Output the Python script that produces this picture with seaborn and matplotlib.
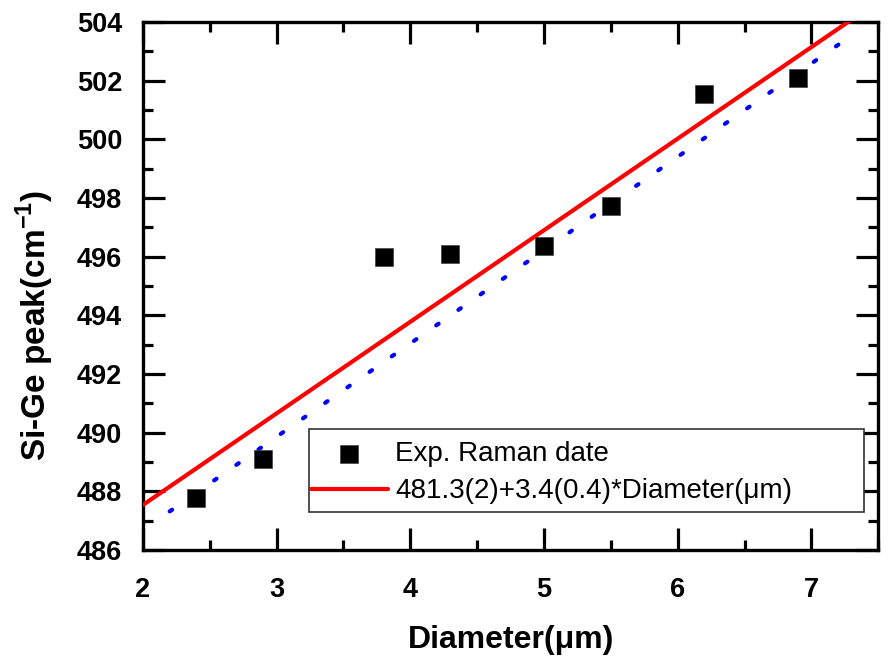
import numpy as np
import pandas as pd
import matplotlib
matplotlib.use("Agg")
import matplotlib.pyplot as plt
from matplotlib.ticker import MultipleLocator
from matplotlib.patches import Rectangle
import seaborn as sns

# Measured Raman Si-Ge peak positions versus wire diameter
diameter = [2.4, 2.9, 3.8, 4.3, 5.0, 5.5, 6.2, 6.9]
peak = [487.77, 489.10, 495.99, 496.09, 496.36, 497.73, 501.55, 502.09]

# Linear fit (solid red) and guide line (dotted blue)
fit_x = [2.0, 7.5]
fit_y = [487.54, 504.70]
guide_x = [2.2, 7.27]
guide_y = [487.32, 503.44]

legend_labels = ["Exp. Raman date", "481.3(2)+3.4(0.4)*Diameter(\u03bcm)"]
x_ticks = [2, 3, 4, 5, 6, 7]
y_ticks = [486, 488, 490, 492, 494, 496, 498, 500, 502, 504]

sns.set_style("ticks", {"axes.edgecolor": "black", "text.color": "black",
                        "axes.labelcolor": "black", "xtick.color": "black",
                        "ytick.color": "black"})
plt.rcParams["font.family"] = ["Liberation Sans", "DejaVu Sans"]
plt.rcParams["mathtext.fontset"] = "custom"
plt.rcParams["mathtext.rm"] = "Liberation Sans"
plt.rcParams["mathtext.bf"] = "Liberation Sans:bold"

fig = plt.figure(figsize=(8.88, 6.62), dpi=100)
ax = fig.add_axes([0.161, 0.169, 0.828, 0.798])

pts = pd.DataFrame({"d": diameter, "p": peak})
fit = pd.DataFrame({"d": fit_x, "p": fit_y})
guide = pd.DataFrame({"d": guide_x, "p": guide_y})

sns.lineplot(data=guide, x="d", y="p", ax=ax, color="#0000ff", lw=3.0,
             dashes=False, linestyle=(0, (0.7, 5.8)), zorder=2)
ax.lines[-1].set_dash_capstyle("round")
sns.lineplot(data=fit, x="d", y="p", ax=ax, color="#ff0000", lw=3.0,
             label=legend_labels[1], zorder=3)
sns.scatterplot(data=pts, x="d", y="p", ax=ax, marker="s", s=165,
                color="black", edgecolor="#444444", linewidth=0.5,
                label=legend_labels[0], zorder=4)

ax.set_xlim(2, 7.5)
ax.set_ylim(486, 504)
ax.set_xticks(x_ticks)
ax.set_yticks(y_ticks)
ax.xaxis.set_minor_locator(MultipleLocator(0.5))
ax.yaxis.set_minor_locator(MultipleLocator(1))
ax.tick_params(which="both", direction="in", top=True, right=True, width=2.3)
ax.tick_params(which="major", length=15.5, labelsize=19.5)
ax.tick_params(axis="y", pad=15)
ax.tick_params(axis="x", pad=19)
ax.tick_params(which="minor", length=7.5)
for lab in ax.get_xticklabels() + ax.get_yticklabels():
    lab.set_fontweight("bold")
for sp in ax.spines.values():
    sp.set_linewidth(2.4)
    sp.set_visible(True)

ax.set_xlabel("Diameter(\u03bcm)", fontsize=23, fontweight="bold")
ax.set_ylabel(r"Si-Ge peak(cm$^{\mathbf{-1}}$)", fontsize=24, fontweight="bold")
ax.xaxis.set_label_coords(0.5, -0.142)
ax.yaxis.set_label_coords(-0.118, 0.426)

# Legend frame drawn as a plain box, entries placed inside it
ax.add_patch(Rectangle((0.226, 0.072), 0.754, 0.157, transform=ax.transAxes,
                       facecolor="white", edgecolor="#333333", lw=1.2,
                       zorder=5))
handles, labels = ax.get_legend_handles_labels()
order = [labels.index(legend_labels[0]), labels.index(legend_labels[1])]
leg = ax.legend([handles[i] for i in order], [labels[i] for i in order],
                loc="upper left", bbox_to_anchor=(0.228, 0.206),
                fontsize=20, frameon=False, handlelength=2.8,
                handletextpad=0.25, borderpad=0, labelspacing=0.4,
                borderaxespad=0)
leg.set_zorder(6)

fig.savefig("out.png", dpi=100)
